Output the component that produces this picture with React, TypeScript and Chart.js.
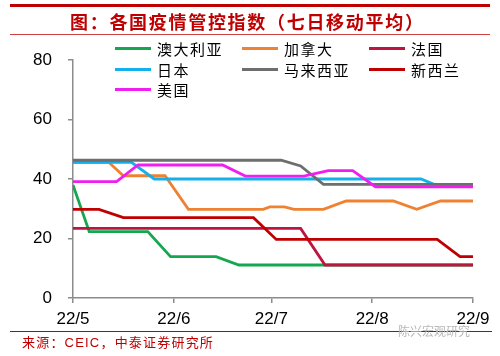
import React, { useEffect, useRef } from "react";
import { Chart, registerables } from "chart.js";

Chart.register(...registerables);

const titleText = "图：各国疫情管控指数（七日移动平均）";
const sourceText = "来源：CEIC，中泰证券研究所";
const watermarkText = "陈兴宏观研究";

const seriesNames = ["澳大利亚", "加拿大", "法国", "日本", "马来西亚", "新西兰", "美国"];
const seriesColors = ["#15A74F", "#EE8232", "#BE1540", "#14B0EC", "#6E6E6E", "#C00000", "#F01EF0"];

// x = days since 2022-05-01
const tickDays = [0, 31, 61, 92, 123];
const tickLabels = ["22/5", "22/6", "22/7", "22/8", "22/9"];
const yTicks = [0, 20, 40, 60, 80];

const australia: [number, number][] = [
  [0, 38], [5, 22.3], [23, 22.3], [30, 13.9], [44, 13.9], [51, 11.1], [123, 11.1],
];
const canada: [number, number][] = [
  [0, 45.6], [11, 45.6], [15.5, 41.1], [28.3, 41.1], [35.5, 29.8], [58.5, 29.8],
  [60.5, 30.6], [65, 30.6], [68, 29.8], [77, 29.8], [84, 32.6], [98.5, 32.6],
  [105.7, 29.8], [113, 32.6], [123, 32.6],
];
const france: [number, number][] = [
  [0, 23.4], [70, 23.4], [77.5, 11.1], [123, 11.1],
];
const japan: [number, number][] = [
  [0, 45.6], [18, 45.6], [25, 40], [107, 40], [111, 38.2], [123, 38.2],
];
const malaysia: [number, number][] = [
  [0, 46.3], [64, 46.3], [70, 44.4], [77, 38.2], [123, 38.2],
];
const newZealand: [number, number][] = [
  [0, 29.8], [8, 29.8], [15.5, 27], [55.5, 27], [62.5, 19.7], [112, 19.7],
  [119, 13.9], [123, 13.9],
];
const usa: [number, number][] = [
  [0, 39.1], [13.4, 39.1], [20, 44.7], [46, 44.7], [53, 41], [71, 41],
  [78.5, 42.8], [86, 42.8], [93, 37.4], [123, 37.4],
];

const seriesData = [australia, canada, france, japan, malaysia, newZealand, usa];

const legendCols = [115, 242, 369];
const legendRows = [48, 69, 89];

export default function App() {
  const canvasRef = useRef<HTMLCanvasElement | null>(null);

  useEffect(() => {
    const canvas = canvasRef.current;
    if (!canvas) return;
    const n = seriesData.length;
    const chart = new Chart(canvas, {
      type: "line",
      data: {
        datasets: seriesData.map((pts, i) => ({
          label: seriesNames[i],
          data: pts.map(([x, y]) => ({ x, y })),
          borderColor: seriesColors[i],
          backgroundColor: seriesColors[i],
          borderWidth: 2.8,
          pointRadius: 0,
          tension: 0,
          fill: false,
          order: n - i,
        })),
      },
      options: {
        animation: false,
        responsive: false,
        maintainAspectRatio: false,
        layout: { padding: { left: 0, top: 60, right: 27, bottom: 28 } },
        plugins: { legend: { display: false }, tooltip: { enabled: false } },
        scales: {
          x: {
            type: "linear",
            min: 0,
            max: 123,
            afterBuildTicks: (s: any) => {
              s.ticks = tickDays.map((v) => ({ value: v }));
            },
            afterFit: (s: any) => {
              s.height = 30;
            },
            ticks: {
              autoSkip: false,
              maxRotation: 0,
              padding: 6,
              color: "#000",
              font: { family: "'Liberation Sans', Arial, sans-serif", size: 17 },
              callback: (v: any) => {
                const idx = tickDays.indexOf(Number(v));
                return idx >= 0 ? tickLabels[idx] : "";
              },
            },
            grid: { drawOnChartArea: false, tickLength: 5, color: "#8c8c8c", lineWidth: 1.5 },
            border: { color: "#8c8c8c", width: 1.5 },
          },
          y: {
            min: 0,
            max: 80,
            afterBuildTicks: (s: any) => {
              s.ticks = yTicks.map((v) => ({ value: v }));
            },
            afterFit: (s: any) => {
              s.width = 73;
            },
            ticks: {
              padding: 16,
              color: "#000",
              font: { family: "'Liberation Sans', Arial, sans-serif", size: 17 },
            },
            grid: { drawOnChartArea: false, tickLength: 5, color: "#8c8c8c", lineWidth: 1.5 },
            border: { color: "#8c8c8c", width: 1.5 },
          },
        },
      },
    });
    return () => chart.destroy();
  }, []);

  const cjk = "'Noto Sans CJK SC', 'Noto Sans', sans-serif";
  const mixed = "'Liberation Sans', 'Noto Sans CJK SC', sans-serif";

  return (
    <div
      style={{
        position: "fixed",
        left: 0,
        top: 0,
        width: 500,
        height: 356,
        background: "#fff",
        overflow: "hidden",
      }}
    >
      <canvas
        ref={canvasRef}
        width={500}
        height={356}
        style={{ position: "absolute", left: 0, top: 0, width: 500, height: 356 }}
      />
      <div style={{ position: "absolute", left: 10, top: 4, width: 480, height: 3, background: "#C00000" }} />
      <div
        style={{
          position: "absolute",
          left: 70,
          top: 9,
          fontFamily: cjk,
          fontWeight: 700,
          fontSize: 18,
          letterSpacing: 1.7,
          lineHeight: "24px",
          color: "#C00000",
          whiteSpace: "nowrap",
        }}
      >
        {titleText}
      </div>
      <div style={{ position: "absolute", left: 10, top: 34, width: 480, height: 1, background: "#D04040" }} />
      {seriesNames.map((name, i) => {
        const col = i % 3;
        const row = Math.floor(i / 3);
        return (
          <div
            key={name}
            style={{
              position: "absolute",
              left: legendCols[col],
              top: legendRows[row] - 10,
              height: 20,
              display: "flex",
              alignItems: "center",
              fontFamily: cjk,
              fontSize: 15,
              letterSpacing: 1.5,
              color: "#000",
              whiteSpace: "nowrap",
            }}
          >
            <span
              style={{
                display: "inline-block",
                width: 36,
                height: 3,
                background: seriesColors[i],
                marginRight: 6,
              }}
            />
            <span>{name}</span>
          </div>
        );
      })}
      <div style={{ position: "absolute", left: 10, top: 331, width: 482, height: 1, background: "#C00000" }} />
      <div
        style={{
          position: "absolute",
          left: 22,
          top: 334,
          fontFamily: mixed,
          fontSize: 13,
          letterSpacing: 1.2,
          lineHeight: "18px",
          color: "#C00000",
          whiteSpace: "nowrap",
        }}
      >
        {sourceText}
      </div>
      <div
        style={{
          position: "absolute",
          left: 398,
          top: 322,
          fontFamily: cjk,
          fontSize: 12,
          lineHeight: "18px",
          color: "#b8b8b8",
          whiteSpace: "nowrap",
        }}
      >
        {watermarkText}
      </div>
    </div>
  );
}
